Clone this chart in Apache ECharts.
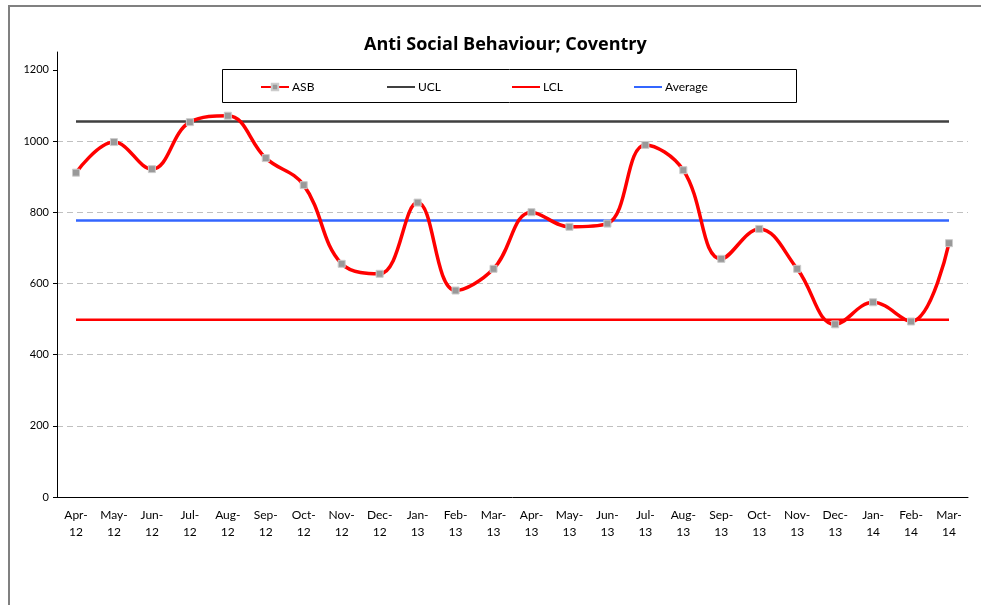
<!DOCTYPE html>
<html>
<head>
<meta charset="utf-8">
<script src="https://cdn.jsdelivr.net/npm/echarts@6/dist/echarts.min.js"></script>
<style>
	html, body { margin: 0; padding: 0; background: #fff; }
	#chart { width: 981px; height: 605px; }
</style>
</head>
<body>
<div id="chart"></div>
<script>
var months = [ 'Apr-12', 'May-12', 'Jun-12', 'Jul-12', 'Aug-12', 'Sep-12', 'Oct-12', 'Nov-12',
	'Dec-12', 'Jan-13', 'Feb-13', 'Mar-13', 'Apr-13', 'May-13', 'Jun-13', 'Jul-13', 'Aug-13',
	'Sep-13', 'Oct-13', 'Nov-13', 'Dec-13', 'Jan-14', 'Feb-14', 'Mar-14' ];
// ASB monthly counts
var asb = [ 911, 997, 921, 1053, 1071, 952, 876, 655, 627, 827, 580, 641,
	800, 759, 768, 989, 918, 669, 753, 641, 485, 547, 493, 713 ];
var ucl = [ 1055, 1055, 1055, 1055, 1055, 1055, 1055, 1055, 1055, 1055, 1055, 1055,
	1055, 1055, 1055, 1055, 1055, 1055, 1055, 1055, 1055, 1055, 1055, 1055 ];
var lcl = [ 498, 498, 498, 498, 498, 498, 498, 498, 498, 498, 498, 498,
	498, 498, 498, 498, 498, 498, 498, 498, 498, 498, 498, 498 ];
var average = [ 777, 777, 777, 777, 777, 777, 777, 777, 777, 777, 777, 777,
	777, 777, 777, 777, 777, 777, 777, 777, 777, 777, 777, 777 ];
var yTicks = [ 0, 200, 400, 600, 800, 1000, 1200 ];
var legendNames = [ 'ASB', 'UCL', 'LCL', 'Average' ];

var font = 'Lato';
var myChart = echarts.init(document.getElementById('chart'));

// one legend per entry so they sit evenly in the box
var legendLeft = [ 260, 386, 511, 633 ];
var legends = [];
for (var i = 0; i < legendNames.length; i++) {
	legends.push({
		left : legendLeft[i],
		top : 81,
		padding : 0,
		z : 10,
		itemWidth : 28,
		itemHeight : 8,
		itemGap : 0,
		selectedMode : false,
		data : [ i == 0 ? legendNames[i] : { name : legendNames[i], itemStyle : { opacity : 0 } } ],
		textStyle : { fontFamily : font, fontSize : 12, color : '#000', padding : [ 0, 0, 0, -2 ] }
	});
}

var option = {
	animation : false,
	textStyle : { fontFamily : font },
	title : {
		text : 'Anti Social Behaviour; Coventry',
		left : 359,
		top : 31,
		textStyle : { fontFamily : 'Open Sans', fontSize : 18, fontWeight : 'bold', color : '#000' }
	},
	graphic : [ {
		type : 'rect',
		shape : { x : 9, y : 6, width : 1200, height : 800 },
		style : { fill : 'none', stroke : '#808080', lineWidth : 2 },
		silent : true
	}, {
		type : 'rect',
		shape : { x : 222.5, y : 69.5, width : 574, height : 33 },
		style : { fill : '#fff', stroke : '#000', lineWidth : 1 },
		z : 5,
		silent : true
	} ],
	legend : legends,
	grid : { left : 57, right : 13, top : 52, bottom : 108 },
	xAxis : {
		type : 'category',
		data : months,
		boundaryGap : true,
		axisLine : { lineStyle : { color : '#000', width : 1 } },
		axisTick : { length : 4, lineStyle : { color : '#000' } },
		axisLabel : {
			interval : 0,
			margin : 10,
			color : '#000',
			fontSize : 12,
			lineHeight : 17,
			formatter : function(v) {
				var p = v.split('-');
				return p[0] + '-\n' + p[1];
			}
		}
	},
	yAxis : {
		type : 'value',
		min : 0,
		max : 1250,
		interval : 200,
		axisLine : { show : true, lineStyle : { color : '#000', width : 1 } },
		axisTick : { show : true, length : 4, customValues : yTicks, lineStyle : { color : '#000' } },
		axisLabel : {
			color : '#000',
			fontSize : 11,
			margin : 8,
			customValues : yTicks,
			formatter : function(v) { return String(v); }
		},
		splitLine : {
			show : true,
			showMinLine : false,
			showMaxLine : false,
			lineStyle : { color : '#c0c0c0', type : [ 6, 4 ], width : 1 }
		}
	},
	series : [ {
		name : 'ASB',
		type : 'line',
		data : asb,
		smooth : 0.4,
		z : 5,
		symbol : 'rect',
		symbolSize : 7,
		itemStyle : { color : '#999', borderColor : '#ccc', borderWidth : 1 },
		lineStyle : { color : '#ff0000', width : 3.5 }
	}, {
		name : 'UCL',
		type : 'line',
		data : ucl,
		symbol : 'none',
		z : 3,
		itemStyle : { color : '#404040' },
		lineStyle : { color : '#404040', width : 2.5 }
	}, {
		name : 'LCL',
		type : 'line',
		data : lcl,
		symbol : 'none',
		z : 3,
		itemStyle : { color : '#ff0000' },
		lineStyle : { color : '#ff0000', width : 2.5 }
	}, {
		name : 'Average',
		type : 'line',
		data : average,
		symbol : 'none',
		z : 3,
		itemStyle : { color : '#3366ff' },
		lineStyle : { color : '#3366ff', width : 2.5 }
	} ]
};
myChart.setOption(option);
</script>
</body>
</html>
